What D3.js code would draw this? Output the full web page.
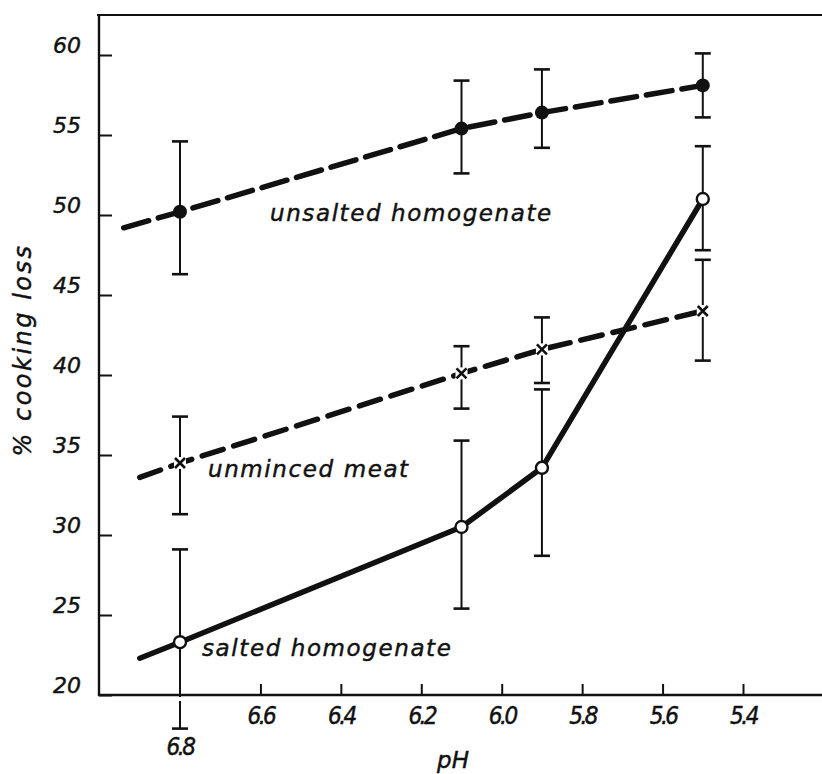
<!DOCTYPE html>
<html>
<head>
<meta charset="utf-8">
<script src="https://cdn.jsdelivr.net/npm/d3@7/dist/d3.min.js"></script>
<style>
  html, body { margin: 0; padding: 0; background: #fff; }
  svg { display: block; }
  text { font-family: "DejaVu Sans", "Liberation Sans", sans-serif; font-style: italic; fill: #111; stroke: #111; stroke-width: 0.45px; }
</style>
</head>
<body>
<svg id="chart" width="822" height="774"></svg>
<script>
// ---- data ----
const pH = [6.8, 6.1, 5.9, 5.5];

const unsaltedMean = [50.2, 55.4, 56.4, 58.1];
const unsaltedLow  = [46.3, 52.6, 54.2, 56.1];
const unsaltedHigh = [54.6, 58.4, 59.1, 60.1];

const unmincedMean = [34.5, 40.1, 41.6, 44.0];
const unmincedLow  = [31.3, 37.9, 39.5, 40.9];
const unmincedHigh = [37.4, 41.8, 43.6, 47.2];

const saltedMean = [23.3, 30.5, 34.2, 51.0];
const saltedLow  = [17.9, 25.4, 28.7, 47.8];
const saltedHigh = [29.1, 35.9, 39.1, 54.3];

// starting points of the drawn lines (left of first measurement)
const lineStartPH    = [6.94, 6.90, 6.90];
const lineStartValue = [49.2, 33.6, 22.3];

const seriesNames = ["unsalted homogenate", "unminced meat", "salted homogenate"];

const xTicks = [6.6, 6.4, 6.2, 6.0, 5.8, 5.6, 5.4];
const xTickLabels = ["6.6", "6.4", "6.2", "6.0", "5.8", "5.6", "5.4"];
const yTicks = [20, 25, 30, 35, 40, 45, 50, 55, 60];

// ---- scales ----
const svg = d3.select("#chart");
const x = d3.scaleLinear().domain([6.8, 5.4]).range([180, 743]);
const y = d3.scaleLinear().domain([20, 60]).range([695, 55]);

const axisLeftX = 99, axisBottomY = 695, frameTop = 15;

// frame: top line
svg.append("line").attr("x1", axisLeftX - 2).attr("x2", 822)
  .attr("y1", frameTop).attr("y2", frameTop)
  .attr("stroke", "#111").attr("stroke-width", 2.2);

// y axis
const yAxis = d3.axisLeft(y).tickValues(yTicks).tickSizeInner(-13).tickSizeOuter(0)
  .tickFormat(d3.format("d")).tickPadding(18);
const gy = svg.append("g").attr("transform", `translate(${axisLeftX},0)`).call(yAxis);
gy.select(".domain").remove();
gy.selectAll(".tick line").attr("stroke", "#111").attr("stroke-width", 2);
gy.selectAll(".tick text").style("font-size", "22px").attr("fill", "#111").attr("dy", "-0.1em");
svg.append("line").attr("x1", axisLeftX).attr("x2", axisLeftX)
  .attr("y1", frameTop - 1).attr("y2", axisBottomY + 1)
  .attr("stroke", "#111").attr("stroke-width", 2.4);

// x axis
const xAxis = d3.axisBottom(x).tickValues(xTicks).tickSizeInner(-11).tickSizeOuter(0)
  .tickFormat((d, i) => xTickLabels[i]).tickPadding(12);
const gx = svg.append("g").attr("transform", `translate(0,${axisBottomY})`).call(xAxis);
gx.select(".domain").remove();
gx.selectAll(".tick line").attr("stroke", "#111").attr("stroke-width", 2);
gx.selectAll(".tick text")
  .style("font-family", "'DejaVu Sans Condensed', 'DejaVu Sans', sans-serif")
  .style("font-size", "24px").style("letter-spacing", "-2.5px")
  .attr("fill", "#111").attr("dy", "0.71em");
svg.append("line").attr("x1", axisLeftX - 1).attr("x2", 822)
  .attr("y1", axisBottomY).attr("y2", axisBottomY)
  .attr("stroke", "#111").attr("stroke-width", 2.4);
svg.append("text").attr("x", x(6.8)).attr("y", 755).attr("text-anchor", "middle")
  .style("font-family", "'DejaVu Sans Condensed', 'DejaVu Sans', sans-serif")
  .style("font-size", "24px").style("letter-spacing", "-2.5px").text("6.8");

// axis titles
svg.append("text").attr("transform", "translate(31,350) rotate(-90)")
  .attr("text-anchor", "middle").style("font-size", "24px").style("letter-spacing", "2.5px").text("% cooking loss");
svg.append("text").attr("x", 453).attr("y", 768).attr("text-anchor", "middle")
  .style("font-size", "23px").text("pH");

// ---- series ----
const series = [
  { mean: unsaltedMean, low: unsaltedLow, high: unsaltedHigh, dash: "26,10", marker: "dot" },
  { mean: unmincedMean, low: unmincedLow, high: unmincedHigh, dash: "22,11", marker: "cross" },
  { mean: saltedMean,   low: saltedLow,   high: saltedHigh,   dash: null,    marker: "open" }
];

const line = d3.line().x(d => x(d[0])).y(d => y(d[1]));

// error bars first
series.forEach(s => {
  const g = svg.append("g");
  pH.forEach((p, i) => {
    const cx = x(p);
    g.append("line").attr("x1", cx).attr("x2", cx).attr("y1", y(s.low[i])).attr("y2", y(s.high[i]))
      .attr("stroke", "#111").attr("stroke-width", 2);
    [s.low[i], s.high[i]].forEach(v => {
      g.append("line").attr("x1", cx - 8).attr("x2", cx + 8).attr("y1", y(v)).attr("y2", y(v))
        .attr("stroke", "#111").attr("stroke-width", 2.6);
    });
  });
});

// white gap in error bar where it crosses bottom axis
svg.append("rect").attr("x", x(6.8) - 3).attr("y", axisBottomY + 2).attr("width", 6).attr("height", 4).attr("fill", "#fff");

// lines
series.forEach((s, k) => {
  const pts = [[lineStartPH[k], lineStartValue[k]]].concat(pH.map((p, i) => [p, s.mean[i]]));
  const path = svg.append("path").datum(pts).attr("d", line)
    .attr("fill", "none").attr("stroke", "#111").attr("stroke-width", 5.5)
    .attr("stroke-linecap", "round").attr("stroke-linejoin", "round");
  if (s.dash) path.attr("stroke-dasharray", s.dash);
});

// markers
series.forEach(s => {
  pH.forEach((p, i) => {
    const cx = x(p), cy = y(s.mean[i]);
    if (s.marker === "dot") {
      svg.append("circle").attr("cx", cx).attr("cy", cy).attr("r", 7).attr("fill", "#111");
    } else if (s.marker === "open") {
      svg.append("circle").attr("cx", cx).attr("cy", cy).attr("r", 6).attr("fill", "#fff")
        .attr("stroke", "#111").attr("stroke-width", 2.4);
    } else {
      svg.append("rect").attr("x", cx - 6).attr("y", cy - 6).attr("width", 12).attr("height", 12).attr("fill", "#fff");
      svg.append("path").attr("d", `M${cx-5},${cy-5}L${cx+5},${cy+5}M${cx+5},${cy-5}L${cx-5},${cy+5}`)
        .attr("stroke", "#111").attr("stroke-width", 2.6);
    }
  });
});

// series labels
svg.append("text").attr("x", 270).attr("y", 221).style("font-size", "23px").style("letter-spacing", "1.6px").text(seriesNames[0]);
svg.append("text").attr("x", 208).attr("y", 477).style("font-size", "23px").style("letter-spacing", "1.6px").text(seriesNames[1]);
svg.append("text").attr("x", 202).attr("y", 656).style("font-size", "23px").style("letter-spacing", "1.6px").text(seriesNames[2]);
</script>
</body>
</html>
